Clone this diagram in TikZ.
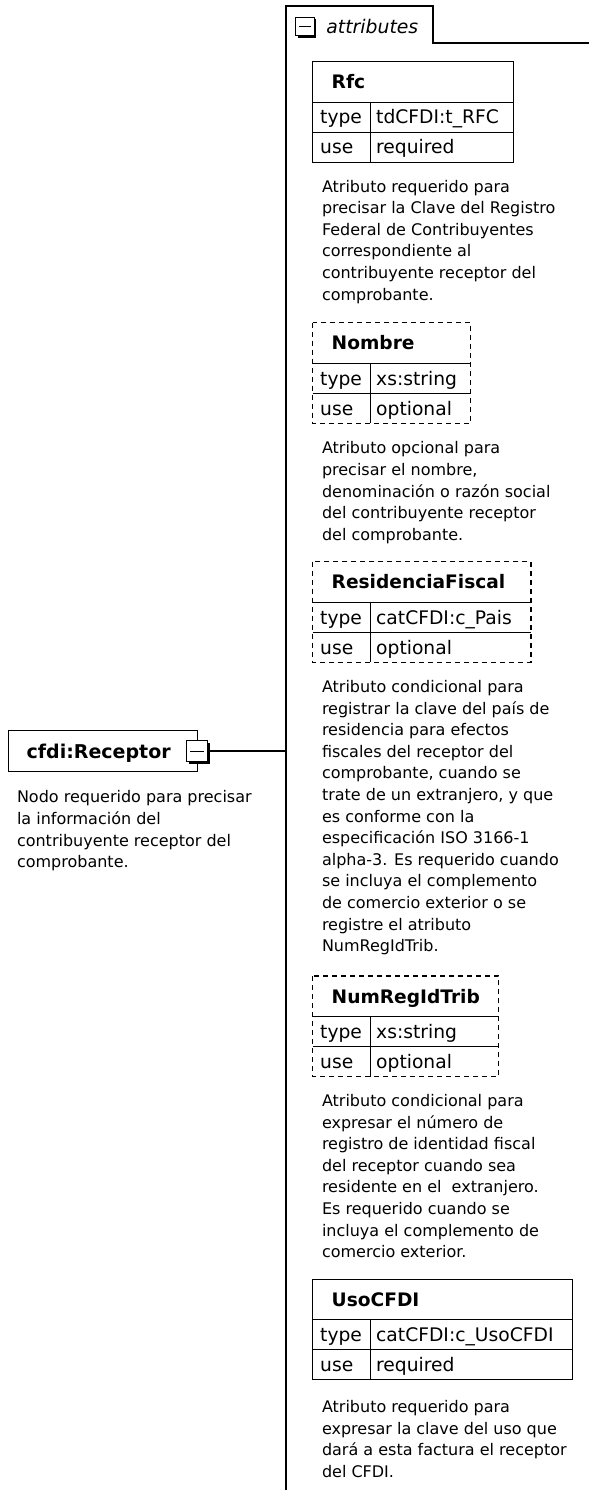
\documentclass[tikz,border=0pt]{standalone}
\usepackage{fontspec}
\setmainfont{DejaVu Sans}
\usetikzlibrary{positioning,shadows}

\begin{document}
\begin{tikzpicture}[
    x=1pt, y=1pt,
    box_line/.style={line width=1.3pt},
    opt_line/.style={box_line, dash pattern=on 5pt off 4pt},
    tab_line/.style={line width=1.6pt},
    cell/.style={
        rectangle,
        anchor=north west,
        inner ysep=0pt,
        outer sep=0pt,
        text height=13.6pt,
        text depth=0pt,
        align=left,
        font={\fontsize{18.7}{22}\selectfont},
    },
    attr_head/.style={cell, inner xsep=19pt, minimum height=40.5pt, font={\fontsize{18.6}{22}\selectfont\bfseries}},
    attr_key/.style={cell, inner xsep=7.5pt, minimum height=30pt, text width=43pt},
    attr_val/.style={cell, inner xsep=5.5pt, minimum height=30pt},
    desc/.style={
        anchor=north west,
        inner sep=0pt,
        outer sep=0pt,
        align=left,
        font={\fontsize{16}{21.6}\selectfont},
    },
    expander/.style={
        rectangle,
        draw,
        fill=white,
        line width=1.3pt,
        inner sep=0pt,
        outer sep=0pt,
        drop shadow={shadow xshift=2pt, shadow yshift=-2pt, fill=black, opacity=1},
        path picture={
            \draw[line width=1.3pt] ([xshift=3.5pt]path picture bounding box.west)
                -- ([xshift=-3.5pt]path picture bounding box.east);
        }
    },
]

    \useasboundingbox (0,0) rectangle (589,-1490);

    % attributes tab
    \coordinate (tab_sw) at (285.7,-1490);
    \coordinate (tab_nw) at (285.7,-6);
    \coordinate (tab_ne) at (432.7,-6);
    \coordinate (tab_e) at (589,-43.3);
    \draw[tab_line] (tab_sw) -- (tab_nw) -- (tab_ne) |- (tab_e);
    \node[expander, minimum size=18.5pt] (tab_exp) at (305,-26.5) {};
    \node[right=12pt of tab_exp, inner sep=0pt, font={\fontsize{18.8}{22}\selectfont\itshape}] (tab_label) {attributes};

    % === Rfc ===
    \node[attr_head, text width=162.6pt] (rfc) at (312.7,-61.7) {Rfc};
    \node[attr_key] (rfc_tk) at (rfc.south west) {type};
    \node[attr_key] (rfc_uk) at (rfc_tk.south west) {use};
    \node[attr_val, text width=131.6pt] (rfc_tv) at (rfc_tk.north east) {tdCFDI:t\_RFC};
    \node[attr_val, text width=131.6pt] (rfc_uv) at (rfc_uk.north east) {required};
    \draw[box_line] (rfc.north west) rectangle (rfc_uv.south east);
    \draw[box_line] (rfc.south west) -- (rfc.south east)
        (rfc_tk.south west) -- (rfc_tv.south east)
        (rfc_tk.north east) -- (rfc_uk.south east);
    \node[desc, below right=17.8pt and 9.3pt of rfc_uk.south west] (rfc_desc) {Atributo requerido para\\precisar la Clave del Registro\\Federal de Contribuyentes\\correspondiente al\\contribuyente receptor del\\comprobante.};

    % === Nombre ===
    \node[attr_head, text width=120pt] (nom) at (312.7,-322.7) {Nombre};
    \node[attr_key] (nom_tk) at (nom.south west) {type};
    \node[attr_key] (nom_uk) at (nom_tk.south west) {use};
    \node[attr_val, text width=89pt] (nom_tv) at (nom_tk.north east) {xs:string};
    \node[attr_val, text width=89pt] (nom_uv) at (nom_uk.north east) {optional};
    \draw[opt_line] (nom.north west) rectangle (nom_uv.south east);
    \draw[box_line] (nom.south west) -- (nom.south east)
        (nom_tk.south west) -- (nom_tv.south east)
        (nom_tk.north east) -- (nom_uk.south east);
    \node[desc, below right=18.6pt and 9.3pt of nom_uk.south west] (nom_desc) {Atributo opcional para\\precisar el nombre,\\denominación o razón social\\del contribuyente receptor\\del comprobante.};

    % === ResidenciaFiscal ===
    \node[attr_head, text width=180.3pt] (res) at (312.7,-561.7) {ResidenciaFiscal};
    \node[attr_key] (res_tk) at (res.south west) {type};
    \node[attr_key] (res_uk) at (res_tk.south west) {use};
    \node[attr_val, text width=149.3pt] (res_tv) at (res_tk.north east) {catCFDI:c\_Pais};
    \node[attr_val, text width=149.3pt] (res_uv) at (res_uk.north east) {optional};
    \draw[opt_line] (res.north west) rectangle (res_uv.south east);
    \draw[box_line] (res.south west) -- (res.south east)
        (res_tk.south west) -- (res_tv.south east)
        (res_tk.north east) -- (res_uk.south east);
    \node[desc, below right=18.1pt and 9.3pt of res_uk.south west] (res_desc) {Atributo condicional para\\registrar la clave del país de\\residencia para efectos\\fiscales del receptor del\\comprobante, cuando se\\trate de un extranjero, y que\\es conforme con la\\especificación ISO 3166-1\\alpha-3. Es requerido cuando\\se incluya el complemento\\de comercio exterior o se\\registre el atributo\\NumRegIdTrib.};

    % === NumRegIdTrib ===
    \node[attr_head, text width=148pt] (nrt) at (312.7,-976) {NumRegIdTrib};
    \node[attr_key] (nrt_tk) at (nrt.south west) {type};
    \node[attr_key] (nrt_uk) at (nrt_tk.south west) {use};
    \node[attr_val, text width=117pt] (nrt_tv) at (nrt_tk.north east) {xs:string};
    \node[attr_val, text width=117pt] (nrt_uv) at (nrt_uk.north east) {optional};
    \draw[opt_line] (nrt.north west) rectangle (nrt_uv.south east);
    \draw[box_line] (nrt.south west) -- (nrt.south east)
        (nrt_tk.south west) -- (nrt_tv.south east)
        (nrt_tk.north east) -- (nrt_uk.south east);
    \node[desc, below right=17.8pt and 9.3pt of nrt_uk.south west] (nrt_desc) {Atributo condicional para\\expresar el número de\\registro de identidad fiscal\\del receptor cuando sea\\residente en el~ extranjero.\\Es requerido cuando se\\incluya el complemento de\\comercio exterior.};

    % === UsoCFDI ===
    \node[attr_head, text width=222pt] (uso) at (312.7,-1279.3) {UsoCFDI};
    \node[attr_key] (uso_tk) at (uso.south west) {type};
    \node[attr_key] (uso_uk) at (uso_tk.south west) {use};
    \node[attr_val, text width=191pt] (uso_tv) at (uso_tk.north east) {catCFDI:c\_UsoCFDI};
    \node[attr_val, text width=191pt] (uso_uv) at (uso_uk.north east) {required};
    \draw[box_line] (uso.north west) rectangle (uso_uv.south east);
    \draw[box_line] (uso.south west) -- (uso.south east)
        (uso_tk.south west) -- (uso_tv.south east)
        (uso_tk.north east) -- (uso_uk.south east);
    \node[desc, below right=20.5pt and 9.3pt of uso_uk.south west] (uso_desc) {Atributo requerido para\\expresar la clave del uso que\\dará a esta factura el receptor\\del CFDI.};

    % === cfdi:Receptor ===
    \node[attr_head, draw, box_line, inner xsep=18.4pt, minimum height=41pt, text width=152.2pt,
        font={\fontsize{19}{22}\selectfont\bfseries}] (rcpt) at (8.3,-730.7) {cfdi:Receptor};
    \node[expander, minimum size=21pt] (rcpt_exp) at (rcpt.east) {};
    \draw[tab_line] (rcpt_exp.east) -- (rcpt_exp.east -| tab_nw);
    \node[desc, below right=19pt and 8.7pt of rcpt.south west] (rcpt_desc) {Nodo requerido para precisar\\la información del\\contribuyente receptor del\\comprobante.};

\end{tikzpicture}
\end{document}
